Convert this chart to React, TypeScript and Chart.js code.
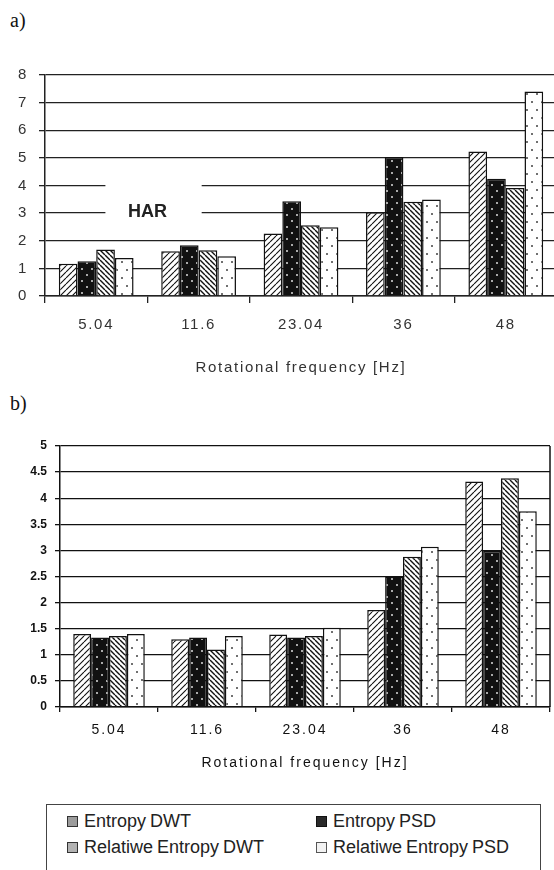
import React, { useEffect, useRef } from 'react';
import { Chart, registerables } from 'chart.js';

Chart.register(...registerables);

// ---------- data ----------
const categories = ['5.04', '11.6', '23.04', '36', '48'];
const seriesNames = ['Entropy DWT', 'Entropy PSD', 'Relatiwe Entropy DWT', 'Relatiwe Entropy PSD'];

// chart a) HAR
const aEntropyDWT = [1.17, 1.62, 2.26, 3.03, 5.23];
const aEntropyPSD = [1.26, 1.84, 3.43, 5.03, 4.24];
const aRelEntropyDWT = [1.68, 1.66, 2.56, 3.41, 3.91];
const aRelEntropyPSD = [1.38, 1.44, 2.49, 3.49, 7.4];

// chart b)
const bEntropyDWT = [1.4, 1.3, 1.39, 1.86, 4.32];
const bEntropyPSD = [1.33, 1.33, 1.33, 2.5, 2.99];
const bRelEntropyDWT = [1.36, 1.1, 1.36, 2.88, 4.38];
const bRelEntropyPSD = [1.4, 1.36, 1.52, 3.07, 3.75];

const aYMax = 8;
const aYStep = 1;
const bYMax = 5;
const bYStep = 0.5;

const axisTitle = 'Rotational frequency [Hz]';
const harLabel = 'HAR';
// annotation box in data units (category index / value)
const harBoxX = [0.09, 1.03];
const harBoxY = [2.5, 4.5];
const harTextAt = [0.5, 3.05];

const FONT = "'Liberation Sans', Arial, sans-serif";

// ---------- patterns ----------
function hatchPattern(dir: 'fwd' | 'back', size: number, lw: number): CanvasPattern {
  const c = document.createElement('canvas');
  c.width = size;
  c.height = size;
  const g = c.getContext('2d')!;
  g.fillStyle = '#ffffff';
  g.fillRect(0, 0, size, size);
  g.strokeStyle = '#111111';
  g.lineWidth = lw;
  g.beginPath();
  for (let k = -1; k <= 1; k++) {
    if (dir === 'fwd') {
      g.moveTo(k * size, size);
      g.lineTo(k * size + size, 0);
    } else {
      g.moveTo(k * size, 0);
      g.lineTo(k * size + size, size);
    }
  }
  g.stroke();
  return g.createPattern(c, 'repeat')!;
}

function dotPattern(bg: string, fg: string, w: number, h: number, dots: number[][], r: number): CanvasPattern {
  const c = document.createElement('canvas');
  c.width = w;
  c.height = h;
  const g = c.getContext('2d')!;
  g.fillStyle = bg;
  g.fillRect(0, 0, w, h);
  g.fillStyle = fg;
  dots.forEach(([x, y]) => {
    g.fillRect(x - r / 2, y - r / 2, r, r);
  });
  return g.createPattern(c, 'repeat')!;
}

function makePatterns() {
  return [
    hatchPattern('fwd', 6, 1.1),
    dotPattern('#111111', '#ffffff', 10, 12, [[2, 3], [7, 9]], 1.6),
    hatchPattern('back', 5, 1.4),
    dotPattern('#ffffff', '#222222', 10, 16, [[2, 4], [7, 12]], 1.6),
  ];
}

function datasetsFrom(values: number[][], patterns: CanvasPattern[]) {
  return values.map((v, i) => ({
    label: seriesNames[i],
    data: v,
    backgroundColor: patterns[i],
    borderColor: '#111111',
    borderWidth: 1.5,
  }));
}

const harPlugin = {
  id: 'harBox',
  beforeDatasetsDraw(chart: any) {
    const xs = chart.scales.x;
    const ys = chart.scales.y;
    const ctx = chart.ctx;
    const x1 = xs.getPixelForValue(harBoxX[0]);
    const x2 = xs.getPixelForValue(harBoxX[1]);
    const y1 = ys.getPixelForValue(harBoxY[1]);
    const y2 = ys.getPixelForValue(harBoxY[0]);
    ctx.save();
    ctx.letterSpacing = '0px';
    ctx.fillStyle = '#ffffff';
    ctx.fillRect(x1, y1, x2 - x1, y2 - y1);
    ctx.fillStyle = '#222222';
    ctx.font = `bold 18px ${FONT}`;
    ctx.textAlign = 'center';
    ctx.textBaseline = 'middle';
    ctx.fillText(harLabel, xs.getPixelForValue(harTextAt[0]), ys.getPixelForValue(harTextAt[1]));
    ctx.restore();
  },
};

const spacingA = {
  id: 'spacingA',
  beforeDraw(chart: any) {
    chart.ctx.letterSpacing = '1.7px';
  },
};

const spacingB = {
  id: 'spacingB',
  beforeDraw(chart: any) {
    chart.ctx.letterSpacing = '0px';
  },
  afterDatasetsDraw(chart: any) {
    chart.ctx.letterSpacing = '2px';
  },
  afterDraw(chart: any) {
    const { ctx, chartArea } = chart;
    ctx.save();
    ctx.strokeStyle = '#111111';
    ctx.lineWidth = 1.5;
    ctx.beginPath();
    ctx.moveTo(chartArea.right, chartArea.top);
    ctx.lineTo(chartArea.right, chartArea.bottom);
    ctx.stroke();
    ctx.restore();
    ctx.letterSpacing = '0px';
  },
};

function ChartA() {
  const ref = useRef<HTMLCanvasElement>(null);
  useEffect(() => {
    const pats = makePatterns();
    const chart = new Chart(ref.current!, {
      type: 'bar',
      data: {
        labels: categories,
        datasets: datasetsFrom([aEntropyDWT, aEntropyPSD, aRelEntropyDWT, aRelEntropyPSD], pats) as any,
      },
      plugins: [spacingA, harPlugin],
      options: {
        animation: false,
        responsive: false,
        devicePixelRatio: 1,
        layout: { padding: { top: 25, right: 43, left: 0, bottom: 0 } },
        plugins: { legend: { display: false }, tooltip: { enabled: false } },
        datasets: { bar: { categoryPercentage: 0.73, barPercentage: 1 } },
        scales: {
          x: {
            grid: { offset: true, drawOnChartArea: false, drawTicks: true, tickLength: 7, color: '#222222', lineWidth: 1.3 },
            border: { color: '#222222', width: 1.5 },
            ticks: { color: '#333333', font: { family: FONT, size: 15 }, padding: 13, maxRotation: 0, autoSkip: false },
            title: { display: true, text: axisTitle, color: '#333333', font: { family: FONT, size: 15 }, padding: { top: 0, bottom: 13 } },
            afterFit: (s: any) => { s.height = 94; },
          },
          y: {
            min: 0,
            max: aYMax,
            ticks: { stepSize: aYStep, color: '#333333', font: { family: FONT, size: 15 }, padding: 11 },
            grid: { color: '#222222', lineWidth: 1.3, tickLength: 6 },
            border: { color: '#222222', width: 1.5 },
            afterFit: (s: any) => { s.width = 45; },
          },
        },
      } as any,
    });
    return () => chart.destroy();
  }, []);
  return <canvas ref={ref} width={600} height={340} style={{ position: 'absolute', left: 0, top: 50, display: 'block' }} />;
}

function ChartB() {
  const ref = useRef<HTMLCanvasElement>(null);
  useEffect(() => {
    const pats = makePatterns();
    const chart = new Chart(ref.current!, {
      type: 'bar',
      data: {
        labels: categories,
        datasets: datasetsFrom([bEntropyDWT, bEntropyPSD, bRelEntropyDWT, bRelEntropyPSD], pats) as any,
      },
      plugins: [spacingB],
      options: {
        animation: false,
        responsive: false,
        devicePixelRatio: 1,
        layout: { padding: { top: 26, right: 4, left: 0, bottom: 0 } },
        plugins: { legend: { display: false }, tooltip: { enabled: false } },
        datasets: { bar: { categoryPercentage: 0.73, barPercentage: 1 } },
        scales: {
          x: {
            grid: { z: 1, offset: true, drawOnChartArea: false, drawTicks: true, tickLength: 5, color: '#111111', lineWidth: 1.3 },
            border: { z: 1, color: '#111111', width: 1.5 },
            ticks: { z: 1, color: '#111111', font: { family: FONT, size: 14 }, padding: 10, maxRotation: 0, autoSkip: false },
            title: { display: true, text: axisTitle, color: '#111111', font: { family: FONT, size: 14 }, padding: { top: 0, bottom: 8 } },
            afterFit: (s: any) => { s.height = 73; },
          },
          y: {
            min: 0,
            max: bYMax,
            ticks: {
              stepSize: bYStep,
              color: '#111111',
              font: { family: FONT, size: 12, weight: 'bold' },
              padding: 8,
              callback: (v: number) => String(v),
            },
            grid: { color: '#111111', lineWidth: 1.3, tickLength: 5 },
            border: { color: '#111111', width: 1.5 },
            afterFit: (s: any) => { s.width = 60; },
          },
        },
      } as any,
    });
    return () => chart.destroy();
  }, []);
  return <canvas ref={ref} width={554} height={360} style={{ position: 'absolute', left: 0, top: 420, display: 'block' }} />;
}

const swatchStyles = [
  { background: '#9c9c9c', border: '1px solid #333' },
  { background: '#2a2a2a', border: '1px solid #111' },
  { background: '#b2b2b2', border: '1px solid #333' },
  { background: '#f2f2f2', border: '1px solid #555' },
];

function LegendItem({ idx, left, top }: { idx: number; left: number; top: number }) {
  return (
    <div style={{ position: 'absolute', left, top, height: 24, display: 'flex', alignItems: 'center', whiteSpace: 'nowrap' }}>
      <span style={{ display: 'inline-block', width: 9, height: 9, marginRight: 6, ...swatchStyles[idx] }} />
      <span style={{ fontFamily: FONT, fontSize: 18, color: '#222', wordSpacing: '-1px' }}>{seriesNames[idx]}</span>
    </div>
  );
}

export default function App() {
  return (
    <div style={{ position: 'fixed', left: 0, top: 0, width: 554, height: 870, overflow: 'hidden', background: '#fff' }}>
      <div style={{ position: 'absolute', left: 10, top: 10, fontFamily: "'Liberation Serif', 'Times New Roman', serif", fontSize: 20, lineHeight: '20px', color: '#111' }}>a)</div>
      <div style={{ position: 'absolute', left: 10, top: 393, fontFamily: "'Liberation Serif', 'Times New Roman', serif", fontSize: 20, lineHeight: '20px', color: '#111' }}>b)</div>
      <ChartA />
      <ChartB />
      <div style={{ position: 'absolute', left: 46, top: 804, width: 495, height: 70, border: '1px solid #444', boxSizing: 'border-box' }}>
        <LegendItem idx={0} left={20} top={4} />
        <LegendItem idx={1} left={269} top={4} />
        <LegendItem idx={2} left={20} top={30} />
        <LegendItem idx={3} left={269} top={30} />
      </div>
    </div>
  );
}
